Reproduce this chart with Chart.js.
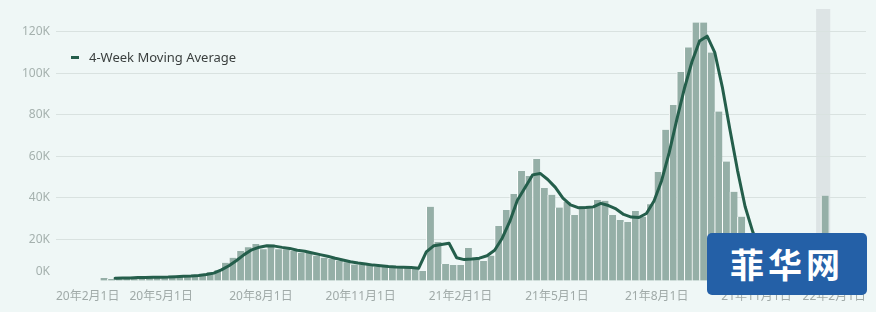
<!DOCTYPE html>
<html>
<head>
<meta charset="utf-8">
<script src="https://cdn.jsdelivr.net/npm/chart.js@4.4.1/dist/chart.umd.min.js"></script>
<style>
    html, body { margin: 0; padding: 0; background: #eff7f6; }
    #wrap { position: relative; width: 876px; height: 312px; }
    #legend {
        position: absolute; left: 71px; top: 48px;
        font: 13px 'Noto Sans', 'Noto Sans CJK SC', sans-serif; color: #3a3f3e;
    }
    #legend .dash {
        display: inline-block; width: 8px; height: 3px; background: #245e4b;
        vertical-align: middle; margin-right: 10px; position: relative; top: -1px;
    }
    #mark {
        position: absolute; left: 707px; top: 233px; width: 160px; height: 62px;
        background: #2460a7; border-radius: 5px; color: #fff;
        font: bold 34px 'Noto Sans CJK SC', sans-serif; letter-spacing: 4px;
        text-align: center; line-height: 62px;
    }
</style>
</head>
<body>
<div id="wrap">
    <canvas id="chartCanvas" width="876" height="312"></canvas>
    <div id="legend"><span class="dash"></span>4-Week Moving Average</div>
    <div id="mark">菲华网</div>
</div>
<script>
// weekly new cases, first week starting 2020-03-09
const firstWeek = '2020-03-09';
const weeklyCases = [
    1400, 1000, 1500, 1600, 1700, 1800, 1600, 1800, 2000, 2200,
    2300, 2500, 2600, 3200, 4200, 5200, 8800, 11200, 14500, 16300,
    17800, 15300, 17400, 15300, 15300, 14600, 13600, 13700, 12200, 11200,
    10600, 9800, 9000, 7900, 7900, 7900, 6900, 6900, 6400, 6600,
    6600, 6500, 4800, 35700, 18800, 8200, 7700, 7700, 15900, 10900,
    9600, 12200, 26500, 34200, 41900, 53000, 50600, 58800, 44800, 41500,
    35400, 38000, 31800, 36000, 36000, 39000, 38600, 31800, 29400, 28400,
    33700, 31000, 37000, 52500, 72800, 84800, 100700, 112500, 124500, 124500,
    110000, 81600, 57500, 43000, 31000, 12000, 9000, 7000, 5500, 4500,
    3500, 3000, 2500, 2500, 4000, 41100
];
const movingAvg = [
    null, null, 1300, 1400, 1450, 1650, 1700, 1750, 1800, 1900,
    2100, 2250, 2400, 2650, 3100, 3800, 5350, 7350, 9900, 12700,
    15000, 16300, 17000, 16800, 16200, 15700, 14800, 14300, 13500, 12700,
    11900, 10950, 10150, 9300, 8650, 8200, 7650, 7400, 7000, 6700,
    6600, 6550, 6150, 14000, 17000, 17600, 18200, 11200, 10300, 10600,
    11000, 12150, 14800, 20600, 28700, 38900, 44900, 51100, 51800, 48900,
    45100, 39900, 36700, 35300, 35450, 35700, 37400, 36350, 34700, 32050,
    30800, 30600, 32500, 38550, 48300, 61800, 77700, 92700, 105600, 115550,
    117900, 110150, 93400, 73000, 53300, 35900, 23750, 14750, 8400, 6500,
    5100, 4100, 3400, 2900, 3000, 12500
];
const yTicks = [0, 20000, 40000, 60000, 80000, 100000, 120000];
const yTickLabels = ['0K', '20K', '40K', '60K', '80K', '100K', '120K'];
const xTickDates = ['2020-02-01', '2020-05-01', '2020-08-01', '2020-11-01', '2021-02-01',
    '2021-05-01', '2021-08-01', '2021-11-01', '2022-02-01'];
const xTickLabels = ['20年2月1日', '20年5月1日', '20年8月1日', '20年11月1日', '21年2月1日',
    '21年5月1日', '21年8月1日', '21年11月1日', '22年2月1日'];
const xRange = ['2020-01-25', '2022-02-10'];
const highlight = ['2021-12-26', '2022-01-08'];

// day number since 2020-01-01
function dayNum(s) {
    const p = s.split('-').map(Number);
    return (Date.UTC(p[0], p[1] - 1, p[2]) - Date.UTC(2020, 0, 1)) / 86400000;
}

const week0 = dayNum(firstWeek);
const barData = weeklyCases.map((v, i) => ({ x: week0 + 7 * i, y: v }));
const lineData = movingAvg.map((v, i) => ({ x: week0 + 7 * i - 3.5, y: v }));

const labelFont = '12px "Noto Sans", "Noto Sans CJK SC", sans-serif';

const customAxes = {
    id: 'customAxes',
    beforeDraw(chart) {
        const { ctx, chartArea, scales } = chart;
        const x1 = scales.x.getPixelForValue(dayNum(highlight[0]));
        const x2 = scales.x.getPixelForValue(dayNum(highlight[1]));
        ctx.save();
        ctx.fillStyle = '#dde4e5';
        ctx.fillRect(x1, chartArea.top, x2 - x1, chartArea.bottom - chartArea.top);
        ctx.restore();
    },
    afterDraw(chart) {
        const { ctx, chartArea, scales } = chart;
        ctx.save();
        ctx.font = labelFont;
        ctx.textBaseline = 'middle';

        // y labels
        ctx.fillStyle = '#a5b1ae';
        ctx.textAlign = 'right';
        yTicks.forEach((v, i) => {
            let y = scales.y.getPixelForValue(v);
            if (v === 0) y -= 9;
            ctx.fillText(yTickLabels[i], chartArea.left - 6, y);
        });

        // x labels, kept inside the plot width
        ctx.fillStyle = '#a0aaa8';
        ctx.textAlign = 'center';
        xTickDates.forEach((d, i) => {
            const w = ctx.measureText(xTickLabels[i]).width;
            let x = scales.x.getPixelForValue(dayNum(d));
            x = Math.max(x, chartArea.left + w / 2);
            x = Math.min(x, chartArea.right - w / 2);
            ctx.fillText(xTickLabels[i], x, chartArea.bottom + 16);
        });
        ctx.restore();
    }
};

new Chart(document.getElementById('chartCanvas'), {
    type: 'bar',
    data: {
        datasets: [
            {
                type: 'line',
                label: '4-Week Moving Average',
                data: lineData,
                borderColor: '#245e4b',
                borderWidth: 3,
                pointRadius: 0,
                tension: 0,
                borderJoinStyle: 'round',
                borderCapStyle: 'round',
                order: 0
            },
            {
                type: 'bar',
                label: 'Weekly',
                data: barData,
                backgroundColor: '#95afa7',
                borderColor: '#ffffff',
                borderWidth: { left: 1, right: 0, top: 0, bottom: 0 },
                borderSkipped: false,
                barPercentage: 1,
                categoryPercentage: 1,
                order: 1
            }
        ]
    },
    options: {
        responsive: false,
        animation: false,
        layout: { padding: { left: 56, right: 10, top: 9, bottom: 31 } },
        plugins: {
            legend: { display: false },
            tooltip: { enabled: false }
        },
        scales: {
            x: {
                type: 'linear',
                display: false,
                offset: false,
                min: dayNum(xRange[0]),
                max: dayNum(xRange[1])
            },
            y: {
                min: 0,
                max: 131000,
                afterBuildTicks: s => { s.ticks = yTicks.map(v => ({ value: v })); },
                afterFit: s => { s.width = 0; },
                ticks: { display: false },
                grid: {
                    drawTicks: false,
                    color: c => (c.tick && c.tick.value === 0) ? 'rgba(0,0,0,0)' : '#d9e2e0'
                },
                border: { display: false }
            }
        }
    },
    plugins: [customAxes]
});
</script>
</body>
</html>
